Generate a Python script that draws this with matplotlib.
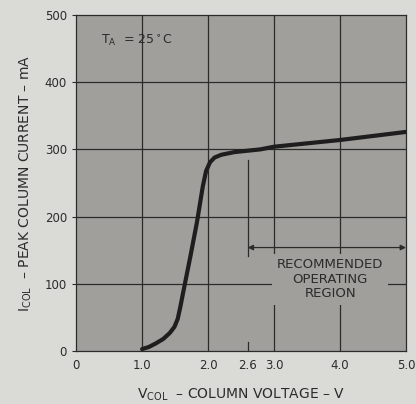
import matplotlib
matplotlib.use('Agg')
import matplotlib.pyplot as plt

# curve
v_col = [1.0, 1.1, 1.2, 1.32, 1.42, 1.49, 1.54, 1.58, 1.63, 1.73, 1.83, 1.92, 1.97,
         2.03, 2.1, 2.2, 2.4, 2.79, 3.0, 4.0, 5.0]
i_col = [3, 6, 11, 18, 27, 36, 48, 66, 91, 140, 191, 245, 268,
         281, 288, 292, 296, 300, 304, 314, 326]

x_ticks = [0, 1.0, 2.0, 2.6, 3.0, 4.0, 5.0]
x_ticklabels = ['0', '1.0', '2.0', '2.6', '3.0', '4.0', '5.0']
y_ticks = [0, 100, 200, 300, 400, 500]
grid_x = [1.0, 2.0, 3.0, 4.0]
grid_y = [100, 200, 300, 400]

fig_bg = '#dadad7'
ax_bg = '#a09f9b'
ink = '#2b2b2b'

plt.rcParams['font.family'] = 'DejaVu Sans'
plt.rcParams['font.size'] = 8.5

fig = plt.figure(figsize=(4.16, 4.04), dpi=100, facecolor=fig_bg)
ax = fig.add_axes([0.183, 0.131, 0.793, 0.832], facecolor=ax_bg)

for x in grid_x:
    ax.axvline(x, color=ink, lw=0.9, zorder=1)
for y in grid_y:
    ax.axhline(y, color=ink, lw=0.9, zorder=1)

ax.plot(v_col, i_col, color='#1e1e1e', lw=3.0, solid_capstyle='round',
        solid_joinstyle='round', zorder=4)

# recommended operating region marker
ax.plot([2.6, 2.6], [141, 284], color=ink, lw=0.9, zorder=2)
ax.plot([2.6, 2.6], [0, 14], color=ink, lw=0.9, zorder=2)
ax.annotate('', xy=(2.6, 154), xytext=(5.0, 154),
            arrowprops=dict(arrowstyle='<|-|>', color=ink, lw=0.9,
                            mutation_scale=8, shrinkA=0, shrinkB=0), zorder=3)
ax.text(3.85, 107, 'RECOMMENDED\nOPERATING\nREGION', ha='center', va='center',
        color=ink, fontsize=9.5, linespacing=1.15, zorder=3,
        bbox=dict(boxstyle='square,pad=0.35', fc=ax_bg, ec='none'))

ax.text(0.38, 462, r'T$_\mathregular{A}$  = 25$^\circ$C', ha='left', va='center',
        color=ink, fontsize=9, zorder=3)

ax.set_xlim(0, 5.0)
ax.set_ylim(0, 500)
ax.set_xticks(x_ticks)
ax.set_xticklabels(x_ticklabels)
ax.set_yticks(y_ticks)
ax.tick_params(colors=ink, labelcolor=ink, length=3, width=0.8, labelsize=8.5)
ax.tick_params(axis='x', length=0, pad=6)
for s in ax.spines.values():
    s.set_color(ink)
    s.set_linewidth(0.9)

ax.set_xlabel(r'V$_\mathregular{COL}$  – COLUMN VOLTAGE – V', color=ink, fontsize=10, labelpad=10)
ax.set_ylabel(r'I$_\mathregular{COL}$  – PEAK COLUMN CURRENT – mA', color=ink, fontsize=10, labelpad=8)

fig.savefig('out.png', dpi=100, facecolor=fig_bg)
